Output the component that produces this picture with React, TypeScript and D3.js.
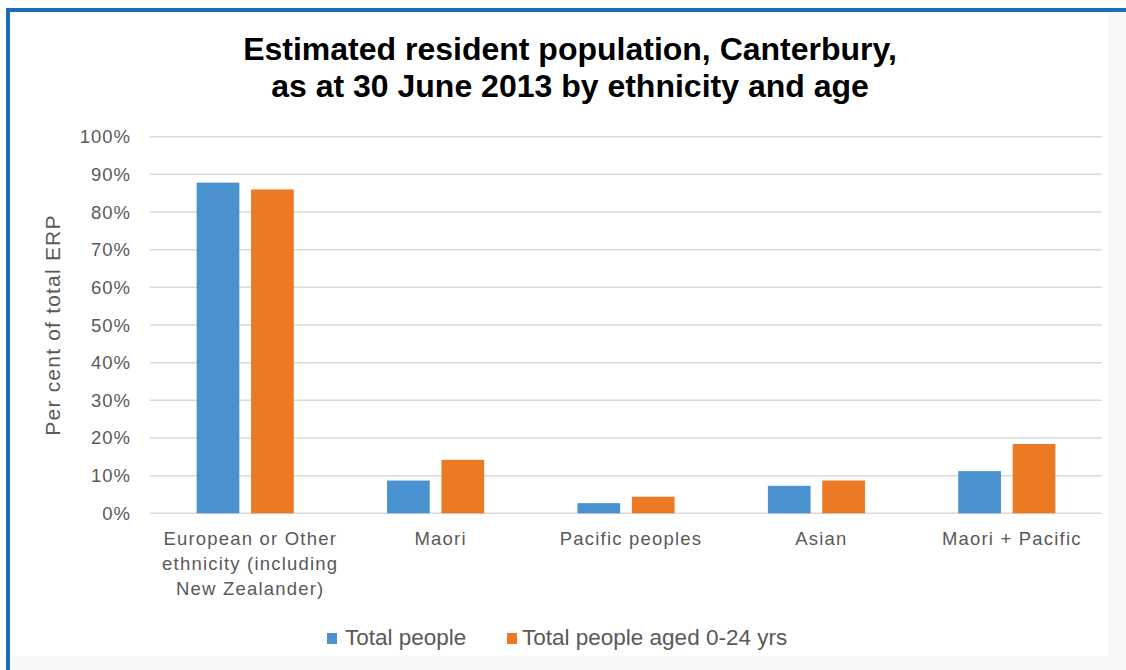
import React from "react";
import * as d3 from "d3";

// Ethnic groups along the x axis (multi-line labels)
const categories: string[] = [
  "European or Other ethnicity (including New Zealander)",
  "Maori",
  "Pacific peoples",
  "Asian",
  "Maori + Pacific",
];
const categoryLines: string[][] = [
  ["European or Other", "ethnicity (including", "New Zealander)"],
  ["Maori"],
  ["Pacific peoples"],
  ["Asian"],
  ["Maori + Pacific"],
];

const seriesNames: string[] = ["Total people", "Total people aged 0-24 yrs"];
// Per cent of total ERP
const totalPeople: number[] = [87.8, 8.7, 2.7, 7.3, 11.2];
const totalPeople0to24: number[] = [86.0, 14.2, 4.4, 8.7, 18.4];
const yTicks: number[] = [0, 10, 20, 30, 40, 50, 60, 70, 80, 90, 100];

const seriesColors = ["#4a91d0", "#ec7a25"];

const W = 1126;
const H = 670;
const plot = { left: 150, right: 1102, top: 136.7, bottom: 513.3 };

export default function App() {
  const x = d3
    .scaleBand<string>()
    .domain(categories)
    .range([plot.left, plot.right])
    .paddingInner(0.49)
    .paddingOuter(0.245);
  const xs = d3
    .scaleBand<string>()
    .domain(seriesNames)
    .range([0, x.bandwidth()])
    .paddingInner(0.215);
  const y = d3.scaleLinear().domain([0, 100]).range([plot.bottom, plot.top]);

  const series = [totalPeople, totalPeople0to24];
  const font = "'Liberation Sans', Arial, sans-serif";
  const grey = "#595959";

  return (
    <svg
      width={W}
      height={H}
      style={{ position: "absolute", left: 0, top: 0, background: "#fff" }}
      fontFamily={font}
    >
      {/* frame */}
      <rect x={0} y={0} width={W} height={H} fill="#ffffff" />
      <rect x={1108} y={12} width={18} height={H - 12} fill="#f6f7f8" />
      <rect x={10} y={656} width={W - 10} height={14} fill="#f8f8f8" />
      <rect x={6} y={8} width={W - 6} height={4} fill="#1a6cbd" />
      <rect x={6} y={8} width={4} height={H - 8} fill="#1a6cbd" />

      {/* title */}
      <text
        x={570}
        y={60}
        textAnchor="middle"
        fontSize={32}
        fontWeight="bold"
        fill="#000"
      >
        Estimated resident population, Canterbury,
      </text>
      <text
        x={570}
        y={97}
        textAnchor="middle"
        fontSize={32}
        fontWeight="bold"
        fill="#000"
      >
        as at 30 June 2013 by ethnicity and age
      </text>

      {/* gridlines and y tick labels */}
      {yTicks.map((t) => (
        <g key={t}>
          <line
            x1={plot.left}
            x2={plot.right}
            y1={y(t)}
            y2={y(t)}
            stroke="#d9d9d9"
            strokeWidth={1.5}
          />
          <text
            x={131}
            y={y(t) + 6.5}
            textAnchor="end"
            fontSize={18.5}
            letterSpacing={1}
            fill={grey}
          >
            {t}%
          </text>
        </g>
      ))}

      {/* y axis title */}
      <text
        transform={`translate(60, 325) rotate(-90)`}
        textAnchor="middle"
        fontSize={21}
        letterSpacing={1.2}
        fill={grey}
      >
        Per cent of total ERP
      </text>

      {/* bars */}
      {categories.map((c, i) => (
        <g key={c} transform={`translate(${x(c)},0)`}>
          {series.map((vals, s) => (
            <rect
              key={s}
              x={xs(seriesNames[s])}
              y={y(vals[i])}
              width={xs.bandwidth()}
              height={y(0) - y(vals[i])}
              fill={seriesColors[s]}
            />
          ))}
        </g>
      ))}

      {/* x category labels */}
      {categories.map((c, i) => (
        <text
          key={c}
          x={(x(c) as number) + x.bandwidth() / 2 + 5}
          textAnchor="middle"
          fontSize={18.5}
          letterSpacing={1.2}
          fill={grey}
        >
          {categoryLines[i].map((line, k) => (
            <tspan key={k} x={(x(c) as number) + x.bandwidth() / 2 + 5} y={545 + k * 25}>
              {line}
            </tspan>
          ))}
        </text>
      ))}

      {/* legend */}
      {[
        { sq: 327, tx: 345 },
        { sq: 507, tx: 522 },
      ].map((p, s) => (
        <g key={s}>
          <rect x={p.sq} y={633} width={10} height={11} fill={seriesColors[s]} />
          <text x={p.tx} y={645} fontSize={22.5} fill={grey}>
            {seriesNames[s]}
          </text>
        </g>
      ))}
    </svg>
  );
}
